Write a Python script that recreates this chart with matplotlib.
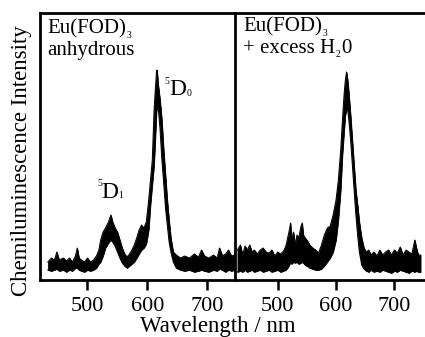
import matplotlib
matplotlib.use("Agg")
import matplotlib.pyplot as plt

plt.rcParams['font.family'] = ['Liberation Serif', 'DejaVu Serif']

# ---- Data (wavelength in nm, intensity in arbitrary units) ----
wl_anh = [434, 440, 445, 449, 453, 460, 465, 470, 475, 480, 483, 486, 490, 495, 500, 505, 510, 515, 519, 522,
          526, 530, 535, 539, 542, 546, 550, 554, 558, 562, 566, 570, 574, 578, 582, 586, 590, 594, 598, 602,
          605, 608, 611, 613, 615, 616, 618, 621, 624, 627, 630, 633, 636, 639, 643, 648, 655, 662, 670, 678,
          685, 690, 695, 702, 710, 716, 720, 725, 730, 735, 740, 745]
hi_anh = [18, 22, 20, 28, 20, 22, 19, 22, 18, 24, 32, 22, 20, 18, 22, 18, 20, 24, 30, 40,
          48, 52, 58, 65, 58, 52, 48, 40, 32, 26, 23, 26, 30, 35, 42, 50, 55, 52, 58, 80,
          100, 120, 170, 190, 208, 210, 195, 180, 160, 130, 105, 80, 60, 42, 28, 25, 22, 24, 22, 26,
          23, 30, 24, 22, 25, 22, 32, 24, 26, 30, 24, 25]
lo_anh = [10, 9, 10, 11, 9, 10, 8, 10, 9, 12, 12, 10, 9, 8, 10, 9, 10, 12, 16, 18,
          24, 32, 37, 40, 38, 34, 28, 22, 17, 14, 12, 14, 16, 18, 22, 26, 30, 32, 36, 50,
          75, 95, 115, 140, 168, 172, 172, 150, 120, 97, 72, 55, 38, 28, 18, 12, 10, 9, 10, 8,
          9, 10, 9, 8, 10, 9, 11, 10, 8, 10, 9, 10]

wl_h2o = [431, 436, 440, 444, 448, 452, 456, 460, 465, 470, 475, 480, 485, 490, 495, 500, 505, 510, 514, 517,
          520, 522, 524, 527, 530, 533, 536, 540, 542, 544, 547, 550, 555, 560, 565, 570, 575, 580, 585, 590,
          595, 600, 604, 608, 611, 614, 616, 618, 620, 622, 625, 628, 631, 634, 637, 640, 644, 648, 652, 656,
          660, 665, 670, 675, 680, 685, 690, 695, 700, 705, 710, 715, 720, 725, 730, 735, 738, 741, 745]
hi_h2o = [30, 35, 25, 34, 30, 35, 28, 30, 26, 30, 32, 28, 27, 30, 24, 28, 26, 29, 34, 42,
          50, 57, 40, 48, 35, 45, 42, 54, 57, 45, 42, 40, 35, 32, 30, 27, 35, 45, 52, 54,
          65, 80, 100, 130, 160, 187, 200, 208, 200, 187, 165, 140, 115, 90, 75, 58, 42, 32, 28, 30,
          25, 28, 24, 30, 25, 28, 30, 25, 30, 27, 33, 25, 30, 28, 26, 40, 32, 25, 25]
lo_h2o = [8, 9, 8, 10, 8, 9, 10, 8, 9, 10, 8, 9, 10, 8, 9, 10, 8, 9, 10, 12,
          15, 18, 16, 18, 17, 18, 16, 17, 18, 17, 15, 14, 12, 11, 10, 10, 11, 14, 18, 22,
          28, 40, 60, 90, 125, 150, 165, 170, 170, 160, 140, 115, 90, 65, 45, 28, 15, 11, 9, 8,
          10, 8, 9, 8, 10, 9, 8, 7, 9, 8, 10, 9, 8, 7, 9, 8, 9, 8, 8]

xticks = [500, 600, 700]
xticklabels = ['500', '600', '700']

W, H = 425, 337
fig = plt.figure(figsize=(W / 100, H / 100), dpi=100)
renderer = fig.canvas.get_renderer()

def fx(x):
    return x / W

def fy(y):
    return 1 - y / H

top, bot = 13, 280
axR = fig.add_axes([fx(234.5), fy(bot), fx(W + 2 - 234.5), (bot - top) / H])
axL = fig.add_axes([fx(40), fy(bot), fx(234.5 - 40), (bot - top) / H])
axL.patch.set_visible(False)

for ax, wl, hi, lo, xl in [(axL, wl_anh, hi_anh, lo_anh, (421, 745)),
                           (axR, wl_h2o, hi_h2o, lo_h2o, (426, 756))]:
    ax.fill_between(wl, lo, hi, color='black', linewidth=0.5, edgecolor='black')
    ax.plot(wl, hi, color='black', lw=0.7)
    ax.plot(wl, lo, color='black', lw=0.7)
    ax.set_xlim(*xl)
    ax.set_ylim(0, 267)
    ax.set_yticks([])
    ax.set_xticks(xticks)
    ax.set_xticklabels(xticklabels)
    ax.tick_params(axis='x', direction='out', length=7.5, width=1.8, pad=5, labelsize=16)
    for s in ax.spines.values():
        s.set_linewidth(2.0)

axR.spines['left'].set_visible(False)
axR.spines['right'].set_visible(False)

big = 15
small = 7

def put(x, y, s, size, gap_after=0.0, sub=None, sub_dy=0.0, after=None):
    """Place text at pixel (x, baseline y); optionally a small index right after it."""
    t = fig.text(fx(x), fy(y), s, fontsize=size, ha='left', va='baseline')
    bb = t.get_window_extent(renderer=renderer)
    xe = bb.x1  # pixels from left
    if sub is not None:
        ts = fig.text(fx(xe + gap_after), fy(y + sub_dy), sub, fontsize=small, ha='left', va='baseline')
        bbs = ts.get_window_extent(renderer=renderer)
        if after is not None:
            fig.text(fx(bbs.x1 + 0.5), fy(y), after, fontsize=size, ha='left', va='baseline')
    return t

# Panel labels
put(47, 33, 'Eu(FOD)', big, 0.5, '3', 5)
put(47, 55, 'anhydrous', big)
put(243, 31, 'Eu(FOD)', big, 0.5, '3', 5)
put(243, 53, '+ excess H', big, 0.5, '2', 4, after='0')

# Peak annotations
fig.text(fx(97), fy(186), '5', fontsize=small, ha='left', va='baseline')
put(101, 198, 'D', 17, 0.3, '1', 0)
fig.text(fx(164), fy(84), '5', fontsize=small, ha='left', va='baseline')
put(169, 95, 'D', 17, 0.3, '0', 1)

# Axis labels
fig.text(fx(22), fy(161), 'Chemiluminescence Intensity', fontsize=16.5, rotation=90,
         ha='center', va='center')
fig.text(fx(218), fy(332), 'Wavelength / nm', fontsize=16.5, ha='center', va='baseline')

fig.savefig('out.png', dpi=100)
